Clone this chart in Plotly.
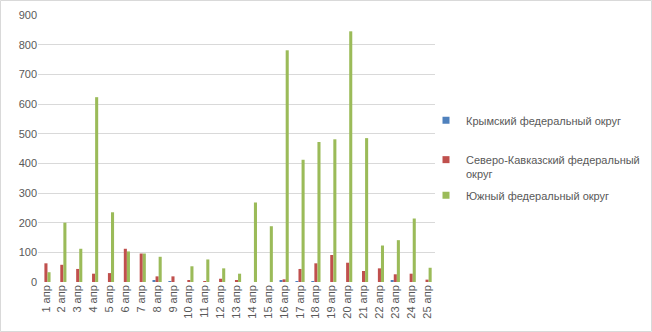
import plotly.graph_objects as go

# Daily figures by federal district, 1–25 April
days = [f"{d} апр" for d in range(1, 26)]

crimea = [0, 0, 0, 0, 0, 0, 0, 5, 2, 0, 0, 0, 0, 0, 0, 5, 2, 2, 0, 0, 0, 0, 5, 0, 0]
north_caucasus = [63, 58, 44, 28, 30, 112, 96, 19, 19, 5, 3, 11, 5, 0, 0, 9, 44, 63, 91, 65, 37, 46, 26, 28, 8]
south = [33, 200, 112, 623, 235, 103, 96, 85, 0, 53, 76, 46, 28, 268, 188, 781, 412, 472, 481, 845, 485, 123, 141, 214, 48]

series_names = [
    "Крымский федеральный округ",
    "Северо-Кавказский федеральный<br>округ",
    "Южный федеральный округ",
]
colors = ["#4F81BD", "#C0504D", "#9BBB59"]

FONT = "Liberation Sans"
TEXT_COLOR = "#595959"

fig = go.Figure()
legend_keys = ["legend", "legend2", "legend3"]
for name, values, color, lg in zip(series_names, [crimea, north_caucasus, south], colors, legend_keys):
    fig.add_trace(go.Bar(
        x=days, y=values, name=name,
        marker=dict(color=color, line=dict(width=0)),
        legendgroup=name, showlegend=False,
    ))
    # small square legend key for the series
    fig.add_trace(go.Scatter(
        x=[None], y=[None], mode="markers", name=name,
        marker=dict(symbol="square", size=7, color=color),
        legendgroup=name, legend=lg, showlegend=True,
    ))

W, H = 652, 332
ML, MR, MT, MB = 38, 217, 15, 50
pw, ph = W - ML - MR, H - MT - MB


def py(p):
    # pixel row -> paper y
    return (H - MB - p) / ph


def px(p):
    # pixel column -> paper x
    return (p - ML) / pw


legend_common = dict(
    font=dict(family=FONT, size=11, color=TEXT_COLOR),
    bgcolor="rgba(0,0,0,0)", borderwidth=0,
    xanchor="left", yanchor="middle", valign="top",
    itemwidth=30, visible=True,
)

fig.update_layout(
    width=W, height=H,
    margin=dict(l=ML, r=MR, t=MT, b=MB, autoexpand=False),
    paper_bgcolor="white", plot_bgcolor="white",
    showlegend=True,
    barmode="group", bargap=0.42, bargroupgap=0,
    font=dict(family=FONT, size=11, color=TEXT_COLOR),
    legend=dict(x=px(426), y=py(121), **legend_common),
    legend2=dict(x=px(426), y=py(167), **legend_common),
    legend3=dict(x=px(426), y=py(196), **legend_common),
    xaxis=dict(
        tickangle=-90, showgrid=False, showline=False, zeroline=False,
        ticks="", tickfont=dict(family=FONT, size=11, color=TEXT_COLOR),
    ),
    yaxis=dict(
        range=[0, 900], dtick=100, showgrid=True, gridcolor="#D9D9D9",
        gridwidth=1, zeroline=False, showline=False, ticks="",
        tickfont=dict(family=FONT, size=11, color=TEXT_COLOR),
    ),
    shapes=[dict(
        type="rect", xref="paper", yref="paper",
        x0=px(0.5), x1=px(W - 0.5), y0=py(H - 0.5), y1=py(0.5),
        line=dict(color="#D9D9D9", width=1), layer="below",
    )],
)

fig.write_html("out.html")
